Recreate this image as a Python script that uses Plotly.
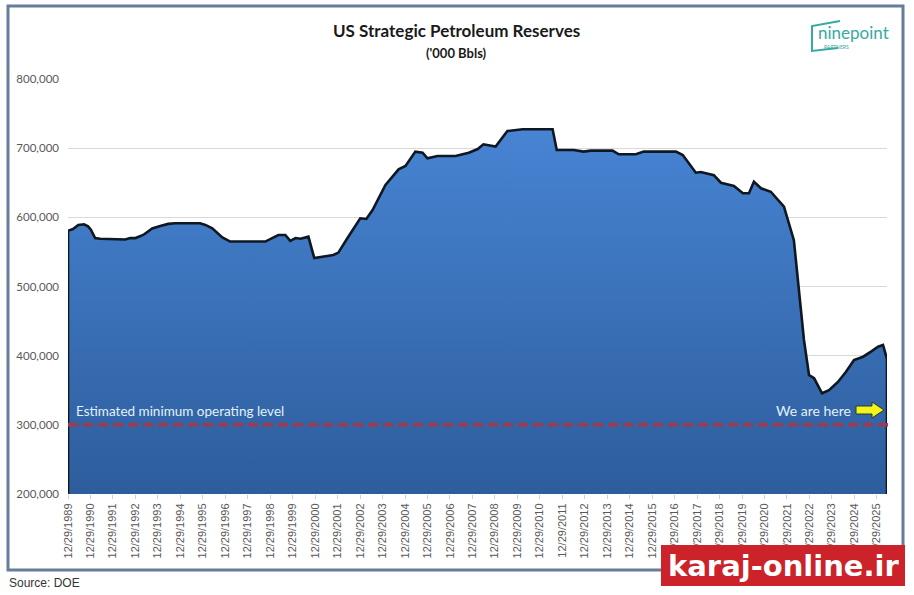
import plotly.graph_objects as go

# ---------------- data (thousand barrels) ----------------
dates = ["1989-12-29","1990-03-20","1990-06-15","1990-09-15","1990-11-20","1991-01-05","1991-03-15","1991-06-05",
         "1992-07-15","1992-10-05","1992-12-29","1993-05-05","1993-09-28","1994-02-05","1994-06-15","1994-10-05",
         "1995-11-15","1996-02-10","1996-06-01","1996-11-10","1997-03-20","1998-10-10","1998-12-29","1999-05-10",
         "1999-09-01","1999-11-20","2000-02-15","2000-05-05","2000-09-10","2000-12-15","2001-10-20","2002-01-10",
         "2002-06-05","2003-01-01","2003-04-10","2003-07-20","2004-02-15","2004-09-15","2005-01-05","2005-06-15",
         "2005-10-10","2005-12-29","2006-06-10","2007-03-30","2007-11-01","2008-03-25","2008-06-25","2009-01-10",
         "2009-07-20","2010-03-25","2011-07-25","2011-09-30","2012-06-30","2012-12-10","2013-04-05","2014-03-25",
         "2014-07-05","2015-04-08","2015-08-15","2017-01-18","2017-05-10","2017-12-08","2018-02-28","2018-09-28",
         "2019-01-20","2019-08-20","2020-01-12","2020-04-20","2020-07-10","2020-11-01","2021-04-10","2021-09-20",
         "2021-11-10","2022-04-20","2022-07-10","2022-10-01","2022-12-22","2023-03-15","2023-07-22","2023-11-12",
         "2024-04-05","2024-08-15","2024-12-22","2025-05-20","2025-09-25","2026-01-18","2026-04-08","2026-06-12"]
reserves_k = [580.5,583,589,590,587,582,570,569,
              568,570,570,574.5,584,587.5,590.5,591.5,
              591.5,589,584,571,565,565,569,574.5,
              574.5,566,570,569,572,541,545.5,549,
              569.7,598.6,597.6,610.6,646.8,669.4,674.2,695,
              693.5,685.4,688.7,688.7,693.5,698.8,705.6,702.2,
              724.8,727.3,727.3,697.4,697.4,695,696.5,696.5,
              691.2,691.2,695,695,690,664.5,665.5,661,
              650,645.3,634.8,634.8,651.5,642,637,620,
              615.5,567,495,422.7,372,367.3,345.6,350,
              362,376.8,393.8,398.5,405.8,413,415.4,395]
reserves = [v * 1000 for v in reserves_k]

min_operating_level = 300000
y_range = [200000, 800000]
tick_years = list(range(1989, 2026))
tick_dates = [f"{y}-12-29" for y in tick_years]
tick_labels = [f"12/29/{y}" for y in tick_years]

# ---------------- helpers for decorations (pixel -> paper) ----------------
L, R, T, B = 68, 887, 79, 494
def px(x):
    return (x - L) / (R - L)
def py(y):
    return (B - y) / (B - T)

fig = go.Figure()

# closed area polygon down to the axis floor (Excel-style outlined area)
poly_x = [dates[0]] + dates + [dates[-1]]
poly_y = [y_range[0]] + reserves + [y_range[0]]
fig.add_trace(go.Scatter(
    x=poly_x, y=poly_y, mode="lines", fill="toself",
    line=dict(color="#0f1721", width=2.6),
    fillgradient=dict(type="vertical",
                      colorscale=[[0, "#2d5d9c"], [1, "#4784d3"]],
                      start=y_range[0], stop=730000),
    hoverinfo="skip", showlegend=False,
))

shapes = [
    # minimum operating level
    dict(type="line", xref="paper", yref="y", x0=0, x1=px(891), y0=min_operating_level, y1=min_operating_level,
         line=dict(color="#a6374b", width=3.5, dash="10px,5px"), layer="above"),
    # yellow arrow
    dict(type="path", xref="paper", yref="paper", layer="above",
         path=(f"M {px(856)},{py(406)} L {px(872)},{py(406)} L {px(872)},{py(402)} L {px(884)},{py(410)} "
               f"L {px(872)},{py(418)} L {px(872)},{py(414)} L {px(856)},{py(414)} Z"),
         fillcolor="#f3f51a", line=dict(color="#2b3a2a", width=1)),
    # outer chart frame
    dict(type="rect", xref="paper", yref="paper", x0=px(8), x1=px(903), y0=py(6), y1=py(570),
         line=dict(color="#647d98", width=3), fillcolor="rgba(0,0,0,0)", layer="below"),
    # logo frame
    dict(type="path", xref="paper", yref="paper", layer="above",
         path=f"M {px(840)},{py(21)} L {px(812)},{py(26)} L {px(812)},{py(51)} L {px(838)},{py(48)}",
         line=dict(color="#36a9a2", width=2)),
    # watermark box
    dict(type="rect", xref="paper", yref="paper", x0=px(661), x1=px(905), y0=py(545), y1=py(586),
         fillcolor="#cc2229", line=dict(width=0), layer="above"),
]

annotations = [
    dict(text="<b>US Strategic Petroleum Reserves</b>", xref="paper", yref="paper", x=px(456), y=py(31),
         showarrow=False, font=dict(family="Lato", size=17, color="#1a1a1a"), xanchor="center", yanchor="middle"),
    dict(text="<b>('000 Bbls)</b>", xref="paper", yref="paper", x=px(456), y=py(53),
         showarrow=False, font=dict(family="Lato", size=13, color="#1a1a1a"), xanchor="center", yanchor="middle"),
    dict(text="Estimated minimum operating level", xref="paper", yref="paper", x=px(74), y=py(411),
         showarrow=False, font=dict(family="Lato", size=13.5, color="#e2f1fb"), xanchor="left", yanchor="middle"),
    dict(text="We are here", xref="paper", yref="paper", x=px(853), y=py(410),
         showarrow=False, font=dict(family="Lato", size=14, color="#e2f1fb"), xanchor="right", yanchor="middle"),
    dict(text="Source: DOE", xref="paper", yref="paper", x=px(7), y=py(583),
         showarrow=False, font=dict(family="Liberation Sans", size=12, color="#333333"), xanchor="left", yanchor="middle"),
    dict(text="ninepoint", xref="paper", yref="paper", x=px(816), y=py(33),
         showarrow=False, font=dict(family="Lato", size=17, color="#36a9a2"), xanchor="left", yanchor="middle"),
    dict(text="PARTNERS", xref="paper", yref="paper", x=px(822), y=py(47),
         showarrow=False, font=dict(family="Lato", size=5, color="#36a9a2"), xanchor="left", yanchor="middle"),
    dict(text="<b>karaj-online.ir</b>", xref="paper", yref="paper", x=px(783), y=py(566),
         showarrow=False, font=dict(family="DejaVu Sans", size=29, color="#ffffff"), xanchor="center", yanchor="middle"),
]

fig.update_layout(
    width=914, height=595,
    margin=dict(l=L, r=914 - R, t=T, b=595 - B),
    paper_bgcolor="white", plot_bgcolor="white",
    shapes=shapes, annotations=annotations,
    showlegend=False,
    xaxis=dict(type="date", range=[dates[0], dates[-1]],
               tickmode="array", tickvals=tick_dates, ticktext=tick_labels, tickangle=-90,
               ticks="outside", ticklen=4, tickcolor="#d0d0d0",
               tickfont=dict(family="Liberation Sans", size=11, color="#595959"),
               showgrid=False, zeroline=False, showline=False),
    yaxis=dict(range=y_range, dtick=100000, tickformat=",", showgrid=True, gridcolor="#d9d9d9", gridwidth=1,
               tickfont=dict(family="Lato", size=11.5, color="#595959"), ticks="", ticklabelstandoff=8,
               zeroline=False, showline=False),
)

fig.write_html("out.html")
